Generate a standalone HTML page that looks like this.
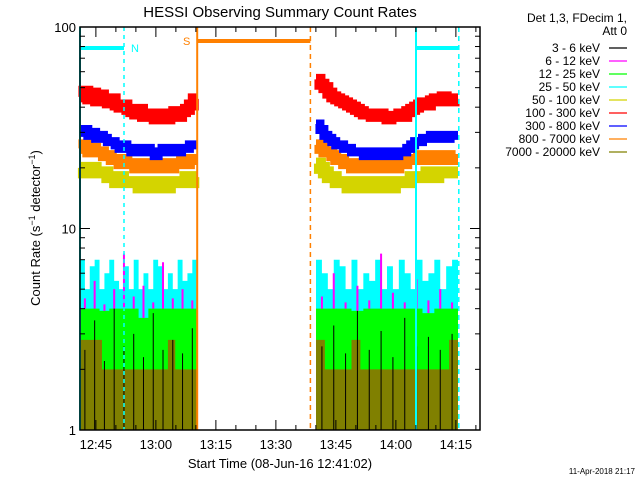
<!DOCTYPE html>
<html><head><meta charset="utf-8"><style>
body{margin:0;background:#fff}
svg{display:block;font-family:"Liberation Sans",sans-serif}
</style></head><body>
<svg id="c" width="640" height="480" viewBox="0 0 640 480">
<rect width="640" height="480" fill="#fff"/>
<text x="280" y="17" font-size="15" text-anchor="middle">HESSI Observing Summary Count Rates</text>
<g id="plot"></g>
<g id="axes"></g>
<text x="280" y="468" font-size="13" text-anchor="middle">Start Time (08-Jun-16 12:41:02)</text>
<text transform="translate(40,228) rotate(-90)" font-size="13" text-anchor="middle">Count Rate (s<tspan font-size="9" dy="-5">−1</tspan><tspan dy="5"> detector</tspan><tspan font-size="9" dy="-5">−1</tspan><tspan dy="5">)</tspan></text>
<text x="635" y="474" font-size="8" text-anchor="end">11-Apr-2018 21:17</text>
<g id="legend"></g>
</svg>
<script>
// ---- data ----
const xTickLabels = ["12:45","13:00","13:15","13:30","13:45","14:00","14:15"];
const xTickMinutes = [3.97,18.97,33.97,48.97,63.97,78.97,93.97];
const yTickValues = [1,10,100];
const yTickLabels = ["1","10","100"];
const seg1 = [0,29.3];
const seg2 = [59,94.5];
const channels = ["3 - 6 keV","6 - 12 keV","12 - 25 keV","25 - 50 keV","50 - 100 keV","100 - 300 keV","300 - 800 keV","800 - 7000 keV","7000 - 20000 keV"];
const colors = ["#000000","#ff00ff","#00ff00","#00ffff","#d4d400","#ff0000","#0000ff","#ff8000","#808000"];
const red1 = [45,48,44,47,43,46,44,42,44,41,40,41,39,38,37,39,36,37,36,35,37,37,35,36,38,36,38,39,41,44];
const red2 = [55,52,50,47,45,44,43,42,41,40,39,38,37,37,36,36,37,36,35,36,36,37,36,38,39,40,41,42,41,43,44,43,45,44,43,44];
const blue1 = [30,31,29,30,28,29,28,27,27,26,25,26,25,24,25,24,24,25,24,23,24,25,24,24,25,24,25,25,26,26];
const blue2 = [33,31,29,28,27,26,26,25,25,24,24,24,23,24,23,24,23,24,23,24,23,24,24,25,26,27,27,28,28,29,28,29,29,28,29,29];
const orange1 = [25,26,24,25,24,24,23,23,22,22,21,22,21,21,20,21,20,21,20,20,21,20,21,20,21,21,22,21,22,22];
const orange2 = [26,25,24,24,23,22,22,21,21,20,21,20,20,21,20,20,21,20,20,21,20,21,21,22,22,22,23,22,23,23,22,23,22,23,22,22];
const yellow1 = [20,19,20,20,19,19,19,18,18,17,18,17,17,17,17,16,17,16,17,16,17,17,16,17,17,17,17,18,17,18];
const yellow2 = [21,20,19,18,18,17,17,17,16,17,17,16,17,16,16,17,16,16,17,16,17,17,17,17,18,18,18,18,19,19,18,19,19,19,19,19];
const cyan1 = [7,5,6.5,7,5,6,7,5.5,5,6.5,5,7,5,6,5,7,6.5,5,6,5,7,5.5,6,7];
const cyan2 = [7,6,5,7,6.5,5,7,5,6,5.5,7,5,6.5,5,7,6,5,7,5.5,6,7,5,6.5,7];
const magenta1 = [4.5,5.5,4.2,5,7.5,4.6,5.2,4.3,6.8,4.5,5,4.4];
const magenta2 = [4.6,6,4.3,5.2,4.4,7.5,4.8,4.3,5.6,4.4,5,4.3];
const green1 = [4,4,3.9,4,4,4,3.6,4,4,4,4,4];
const green2 = [4,4,4,3.9,4,4,4,4,4,3.8,4,4];
const black1 = [2.5,3.5,2.2,4.0,2.6,3.0,2.3,3.8,2.5,2.8,2.4,3.2];
const black2 = [2.6,3.3,2.4,3.9,2.5,3.1,2.3,3.6,2.6,2.9,2.5,3.0];
const olive1 = [2.8,2.8,2.8,2,2,2,2,2,2,2,2,2,2.8,2,2,2];
const olive2 = [2.8,2,2,2,2.8,2,2,2,2,2,2,2,2,2,2,2.8];

// ---- axes ----
const X0=80,X1=480,Y0=27,Y1=430;
const tMax=100;
function xs(t){return X0+(X1-X0)*t/tMax;}
function ys(v){return Y1-(Y1-Y0)*Math.log10(v)/2;}
const NS="http://www.w3.org/2000/svg";
function mk(tag,attrs,parent){const e=document.createElementNS(NS,tag);for(const k in attrs)e.setAttribute(k,attrs[k]);parent.appendChild(e);return e;}
const plot=document.getElementById('plot'),axes=document.getElementById('axes'),legend=document.getElementById('legend');

function drawBars(arr,seg,color,name){
  const n=arr.length,dt=(seg[1]-seg[0])/n;let d="";
  arr.forEach((v,i)=>{const xa=xs(seg[0]+i*dt),xb=xs(seg[0]+(i+1)*dt);d+=`M${xa},${Y1}V${ys(v)}H${xb}V${Y1}Z`;});
  const p=mk('path',{d:d,fill:color},plot);
  
  
}
function drawSpikes(arr,seg,color,w,name){
  const n=arr.length,dt=(seg[1]-seg[0])/n;let d="";
  arr.forEach((v,i)=>{const x=xs(seg[0]+(i+0.5)*dt);d+=`M${x},${Y1}V${ys(v)}`;});
  const p=mk('path',{d:d,stroke:color,'stroke-width':w,fill:'none'},plot);
  
  
}
function drawSeries(arr,seg,color,w,name){
  const n=arr.length,dt=(seg[1]-seg[0])/n;let d="";
  arr.forEach((v,i)=>{const xa=xs(seg[0]+i*dt),xb=xs(seg[0]+(i+1)*dt);d+=(i?"L":"M")+xa+","+ys(v)+"H"+xb;});
  const p=mk('path',{d:d,fill:'none',stroke:color,'stroke-width':w},plot);
  
  
}
drawBars(cyan1,seg1,colors[3],'series-25-50-seg1');
drawBars(cyan2,seg2,colors[3],'series-25-50-seg2');
drawSpikes(magenta1,seg1,colors[1],2,'series-6-12-seg1');
drawSpikes(magenta2,seg2,colors[1],2,'series-6-12-seg2');
drawBars(green1,seg1,colors[2],'series-12-25-seg1');
drawBars(green2,seg2,colors[2],'series-12-25-seg2');
drawBars(olive1,seg1,colors[8],'series-7000-20000-seg1');
drawBars(olive2,seg2,colors[8],'series-7000-20000-seg2');
drawSpikes(black1,seg1,colors[0],1,'series-3-6-seg1');
drawSpikes(black2,seg2,colors[0],1,'series-3-6-seg2');
drawSeries(yellow1,seg1,colors[4],12,'series-50-100-seg1');
drawSeries(yellow2,seg2,colors[4],12,'series-50-100-seg2');
drawSeries(orange1,seg1,colors[7],11,'series-800-7000-seg1');
drawSeries(orange2,seg2,colors[7],11,'series-800-7000-seg2');
drawSeries(blue1,seg1,colors[6],9,'series-300-800-seg1');
drawSeries(blue2,seg2,colors[6],9,'series-300-800-seg2');
drawSeries(red1,seg1,colors[5],11,'series-100-300-seg1');
drawSeries(red2,seg2,colors[5],11,'series-100-300-seg2');

// event markers
const ev=[[0,'#00ffff',''],[11,'#00ffff','4,4'],[29.3,'#ff8000',''],[57.6,'#ff8000','5,4'],[84,'#00ffff',''],[94.7,'#00ffff','5,4']];
ev.forEach(e=>{const l=mk('line',{x1:xs(e[0]),x2:xs(e[0]),y1:Y0,y2:Y1,stroke:e[1],'stroke-width':e[2]?1.5:2,'stroke-dasharray':e[2]},plot);

});
[[0,11,'#00ffff',48],[84,94.7,'#00ffff',48],[29.3,57.6,'#ff8000',41]].forEach(b=>{const l=mk('line',{x1:xs(b[0]),x2:xs(b[1]),y1:b[3],y2:b[3],stroke:b[2],'stroke-width':4},plot);

});
let t=mk('text',{x:131,y:52,fill:'#00ffff','font-size':11},plot);t.textContent='N';

t=mk('text',{x:183,y:45,fill:'#ff8000','font-size':11},plot);t.textContent='S';


// frame and ticks
mk('rect',{x:X0,y:Y0,width:X1-X0,height:Y1-Y0,fill:'none',stroke:'#000','stroke-width':1.5},axes);
for(let k=-1;k<=20;k++){const tm=3.97+k*5;if(tm<0||tm>tMax)continue;const major=(k%3===0);const L=major?10:5;const x=xs(tm);
mk('line',{x1:x,x2:x,y1:Y1,y2:Y1-L,stroke:'#000'},axes);mk('line',{x1:x,x2:x,y1:Y0,y2:Y0+L,stroke:'#000'},axes);}
xTickLabels.forEach((s,i)=>{const e=mk('text',{x:xs(xTickMinutes[i]),y:449,'font-size':13,'text-anchor':'middle'},axes);e.textContent=s;
});
for(let d=0;d<2;d++)for(let m=1;m<=9;m++){const v=m*Math.pow(10,d);const y=ys(v);const L=m===1?10:5;
mk('line',{x1:X0,x2:X0+L,y1:y,y2:y,stroke:'#000'},axes);mk('line',{x1:X1,x2:X1-L,y1:y,y2:y,stroke:'#000'},axes);}
yTickValues.forEach((v,i)=>{const e=mk('text',{x:X0-4,y:ys(v)+5,'font-size':13,'text-anchor':'end'},axes);e.textContent=yTickLabels[i];
});

// legend
[["Det 1,3, FDecim 1,",22],["Att 0",35]].forEach(h=>{const e=mk('text',{x:627,y:h[1],'font-size':12,'text-anchor':'end'},legend);e.textContent=h[0];
});
channels.forEach((c,i)=>{const y=48+i*13;const e=mk('text',{x:600,y:y+4,'font-size':12,'text-anchor':'end'},legend);e.textContent=c;

const l=mk('line',{x1:609,x2:627,y1:y,y2:y,stroke:colors[i],'stroke-width':1.2},legend);
});
</script>
</body></html>
